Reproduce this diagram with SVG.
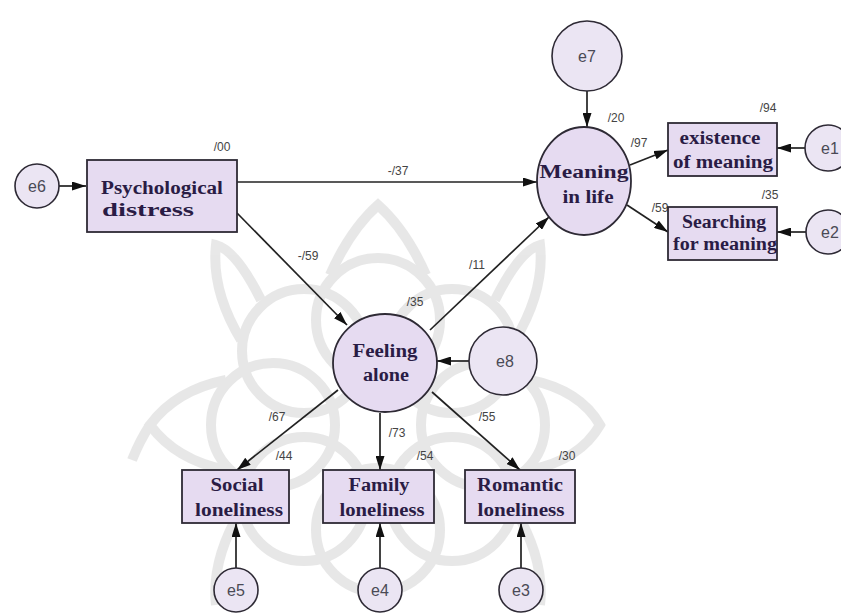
<svg xmlns="http://www.w3.org/2000/svg" width="841" height="613" viewBox="0 0 841 613">
<style>
.node{fill:#e6dbf1;stroke:#2e2a35;stroke-width:1.8}
.err{fill:#ebe5f3;stroke:#2e2a35;stroke-width:1.6}
.lbl{font-family:"Liberation Serif","Times New Roman",serif;font-weight:bold;font-size:18px;fill:#2a1c45;text-anchor:middle}
.elbl{font-family:"Liberation Sans",Arial,sans-serif;font-size:16px;fill:#4a4a55;text-anchor:middle}
.coef{font-family:"Liberation Sans",Arial,sans-serif;font-size:12px;fill:#444;text-anchor:middle}
.edge{stroke:#222;stroke-width:1.7;fill:none;marker-end:url(#arr)}
.wm{fill:none;stroke:#dedede;stroke-width:10}
</style>
<defs>
<marker id="arr" viewBox="0 0 14 9" refX="14" refY="4.5" markerWidth="14" markerHeight="9" markerUnits="userSpaceOnUse" orient="auto">
<path d="M0,0 L14,4.5 L0,9 Z" fill="#111"/>
</marker>
</defs>
<rect width="841" height="613" fill="#ffffff"/>
<g id="watermark" opacity="0.7">
<circle class="wm" cx="378" cy="320" r="62"/>
<circle class="wm" cx="452" cy="351" r="62"/>
<circle class="wm" cx="483" cy="425" r="62"/>
<circle class="wm" cx="452" cy="499" r="62"/>
<circle class="wm" cx="378" cy="530" r="62"/>
<circle class="wm" cx="304" cy="499" r="62"/>
<circle class="wm" cx="273" cy="425" r="62"/>
<circle class="wm" cx="304" cy="351" r="62"/>
<path class="wm" d="M330,275 Q350,230 378,205 Q406,230 426,275"/>
<path class="wm" d="M495,300 Q520,250 540,245 Q545,290 515,340"/>
<path class="wm" d="M530,380 Q580,390 600,425 Q580,460 530,470"/>
<path class="wm" d="M515,510 Q545,560 540,605"/>
<path class="wm" d="M241,510 Q211,560 216,605"/>
<path class="wm" d="M226,380 Q176,390 150,425 Q176,460 226,470"/>
<path class="wm" d="M261,300 Q236,250 216,245 Q211,290 241,340"/>
<path class="wm" d="M150,425 Q140,440 132,460"/>
</g>
<g id="connectors">
<line class="edge" x1="59" y1="186" x2="86" y2="186"/>
<line class="edge" x1="237" y1="182" x2="537" y2="182"/>
<line class="edge" x1="237" y1="213" x2="347" y2="325"/>
<line class="edge" x1="430" y1="330" x2="549" y2="217"/>
<line class="edge" x1="587" y1="91" x2="587" y2="127"/>
<line class="edge" x1="630" y1="165" x2="668" y2="150"/>
<line class="edge" x1="627" y1="205" x2="668" y2="232"/>
<line class="edge" x1="805" y1="148" x2="777" y2="148"/>
<line class="edge" x1="806" y1="232" x2="777" y2="232"/>
<line class="edge" x1="469" y1="361" x2="437" y2="361"/>
<line class="edge" x1="338" y1="390" x2="237" y2="470"/>
<line class="edge" x1="380" y1="413" x2="380" y2="470"/>
<line class="edge" x1="432" y1="392" x2="520" y2="470"/>
<line class="edge" x1="236" y1="568" x2="236" y2="523"/>
<line class="edge" x1="380" y1="568" x2="380" y2="523"/>
<line class="edge" x1="521" y1="568" x2="521" y2="523"/>
<text class="coef" x="222" y="151">/00</text>
<text class="coef" x="398" y="175">-/37</text>
<text class="coef" x="308" y="260">-/59</text>
<text class="coef" x="477" y="269">/11</text>
<text class="coef" x="415" y="306">/35</text>
<text class="coef" x="616" y="122">/20</text>
<text class="coef" x="639" y="147">/97</text>
<text class="coef" x="768" y="112">/94</text>
<text class="coef" x="770" y="199">/35</text>
<text class="coef" x="660" y="212">/59</text>
<text class="coef" x="277" y="421">/67</text>
<text class="coef" x="397" y="437">/73</text>
<text class="coef" x="487" y="421">/55</text>
<text class="coef" x="284" y="460">/44</text>
<text class="coef" x="425" y="460">/54</text>
<text class="coef" x="567" y="460">/30</text>
</g>
<g id="e6"><circle class="err" cx="37" cy="186" r="22"/><text class="elbl" x="37" y="192">e6</text></g>
<g id="psych"><rect class="node" x="87" y="160" width="150" height="72"/>
<text class="lbl" x="162" y="194" textLength="122" lengthAdjust="spacingAndGlyphs">Psychological</text>
<text class="lbl" x="148" y="216" textLength="92" lengthAdjust="spacingAndGlyphs">distress</text></g>
<g id="e7"><circle class="err" cx="587" cy="56" r="35"/><text class="elbl" x="587" y="62">e7</text></g>
<g id="meaning"><ellipse class="node" cx="584" cy="181" rx="47" ry="54"/>
<text class="lbl" x="584" y="178" textLength="89" lengthAdjust="spacingAndGlyphs">Meaning</text>
<text class="lbl" x="588" y="203" textLength="51" lengthAdjust="spacingAndGlyphs">in life</text></g>
<g id="existence"><rect class="node" x="668" y="123" width="109" height="53"/>
<text class="lbl" x="720" y="144" textLength="81" lengthAdjust="spacingAndGlyphs">existence</text>
<text class="lbl" x="723" y="168" textLength="100" lengthAdjust="spacingAndGlyphs">of meaning</text></g>
<g id="e1"><circle class="err" cx="828" cy="148" r="23"/><text class="elbl" x="830" y="154">e1</text></g>
<g id="searching"><rect class="node" x="668" y="207" width="109" height="53"/>
<text class="lbl" x="724" y="228" textLength="84" lengthAdjust="spacingAndGlyphs">Searching</text>
<text class="lbl" x="725" y="250" textLength="104" lengthAdjust="spacingAndGlyphs">for meaning</text></g>
<g id="e2"><circle class="err" cx="828" cy="232" r="22"/><text class="elbl" x="830" y="238">e2</text></g>
<g id="feeling"><ellipse class="node" cx="385" cy="363" rx="52" ry="49"/>
<text class="lbl" x="385" y="357" textLength="65" lengthAdjust="spacingAndGlyphs">Feeling</text>
<text class="lbl" x="386" y="381" textLength="46" lengthAdjust="spacingAndGlyphs">alone</text></g>
<g id="e8"><circle class="err" cx="503" cy="361" r="34"/><text class="elbl" x="505" y="367">e8</text></g>
<g id="social"><rect class="node" x="182" y="470" width="107" height="53"/>
<text class="lbl" x="237" y="491" textLength="53" lengthAdjust="spacingAndGlyphs">Social</text>
<text class="lbl" x="239" y="516" textLength="88" lengthAdjust="spacingAndGlyphs">loneliness</text></g>
<g id="family"><rect class="node" x="323" y="470" width="111" height="53"/>
<text class="lbl" x="379" y="491" textLength="61" lengthAdjust="spacingAndGlyphs">Family</text>
<text class="lbl" x="382" y="516" textLength="85" lengthAdjust="spacingAndGlyphs">loneliness</text></g>
<g id="romantic"><rect class="node" x="465" y="470" width="110" height="53"/>
<text class="lbl" x="520" y="491" textLength="86" lengthAdjust="spacingAndGlyphs">Romantic</text>
<text class="lbl" x="521" y="516" textLength="87" lengthAdjust="spacingAndGlyphs">loneliness</text></g>
<g id="e5"><circle class="err" cx="236" cy="590" r="22"/><text class="elbl" x="236" y="596">e5</text></g>
<g id="e4"><circle class="err" cx="380" cy="590" r="22"/><text class="elbl" x="380" y="596">e4</text></g>
<g id="e3"><circle class="err" cx="521" cy="590" r="22"/><text class="elbl" x="521" y="596">e3</text></g>
</svg>
